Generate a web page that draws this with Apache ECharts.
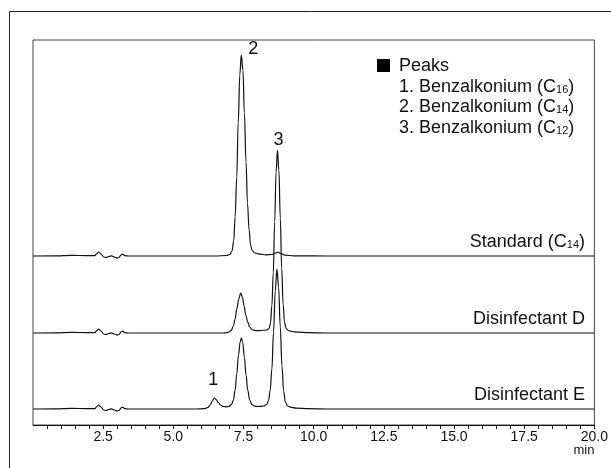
<!DOCTYPE html>
<html>
<head>
<meta charset="utf-8">
<script src="https://cdn.jsdelivr.net/npm/echarts@6/dist/echarts.min.js"></script>
<style>
  html, body { margin: 0; padding: 0; background: #fff; }
  #main { width: 611px; height: 468px; }
</style>
</head>
<body>
<div id="main"></div>
<script>
// retention time (min) vs detector signal
let baselineStart = [
  [0, 0], [0.8, 0.2], [1.4, 0.6], [1.9, 0.4], [2.2, 0.3], [2.28, 2.5], [2.34, 4.0], [2.42, 2.0],
  [2.52, -1.0], [2.6, -1.5], [2.7, -0.5], [2.8, 0.2], [2.9, -1.0], [3.0, -2.2], [3.06, -1.5],
  [3.14, 1.2], [3.2, 1.8], [3.27, 0.3], [3.4, 0], [4.5, 0], [5.8, 0]
];
let standardTrace = [
  [6.5, 0], [6.9, 0.5], [7.01, 1.5], [7.09, 5], [7.15, 15], [7.2, 39], [7.26, 79], [7.31, 133],
  [7.37, 182], [7.42, 201], [7.48, 186], [7.53, 143], [7.59, 94], [7.64, 53], [7.7, 26],
  [7.75, 11], [7.81, 5.5], [7.88, 3.5], [7.97, 2.5], [8.1, 1.8], [8.3, 1.2], [8.52, 1.5],
  [8.63, 3], [8.73, 4], [8.83, 2.5], [8.98, 0.8], [9.3, 0.2], [10.5, 0], [20, 0]
];
let disinfectantD = [
  [6.5, 0], [6.8, 0], [6.95, 0.6], [7.06, 2.5], [7.14, 7], [7.2, 14], [7.26, 24], [7.33, 34],
  [7.4, 40], [7.46, 36], [7.52, 27], [7.58, 18], [7.65, 11], [7.72, 6], [7.8, 3.5],
  [7.9, 2.5], [8.0, 2.3], [8.12, 2.5], [8.32, 3], [8.41, 4.5], [8.46, 10], [8.51, 27],
  [8.56, 60], [8.61, 111], [8.66, 161], [8.71, 183], [8.76, 163], [8.81, 115], [8.86, 65],
  [8.91, 29], [8.96, 11], [9.02, 4.5], [9.1, 2.5], [9.22, 1.5], [9.42, 0.8], [9.8, 0.3],
  [10.5, 0], [20, 0]
];
let disinfectantE = [
  [6.1, 0.3], [6.23, 1.5], [6.31, 4], [6.38, 7.5], [6.46, 11], [6.52, 9.5], [6.6, 6.5],
  [6.68, 4], [6.78, 2.5], [6.88, 2.2], [6.97, 2.5], [7.07, 4.5], [7.14, 9], [7.2, 19],
  [7.26, 35], [7.32, 54], [7.38, 67], [7.42, 71], [7.47, 67], [7.53, 52], [7.59, 34], [7.65, 19],
  [7.72, 9], [7.8, 4.5], [7.9, 2.8], [8.0, 2.5], [8.12, 2.6], [8.22, 3], [8.32, 4.5], [8.39, 8],
  [8.45, 19], [8.51, 40], [8.57, 77], [8.63, 118], [8.69, 140], [8.75, 122], [8.81, 82],
  [8.87, 43], [8.93, 18], [8.99, 7], [9.07, 3], [9.17, 1.8], [9.37, 0.8], [9.8, 0.3],
  [10.5, 0], [20, 0]
];

let traceNames = ['Standard (C{s|14})', 'Disinfectant D', 'Disinfectant E'];
let peakNames = ['1. Benzalkonium (C{s|16})', '2. Benzalkonium (C{s|14})', '3. Benzalkonium (C{s|12})'];
// peak labels: [trace index, retention time, signal at apex, label]
let peakMarks = [
  [2, 6.46, 11, '1'],
  [0, 7.42, 201, '2'],
  [1, 8.71, 183, '3']
];

// vertical stacking of the three runs
let traceOffsets = [169, 92, 16];
let peakLabelOffsets = { '1': [-1, -18], '2': [12, -6], '3': [1, -10] };
let nameY = [242, 319, 395];

const FONT = '"Liberation Sans", Arial, sans-serif';
let chart = echarts.init(document.getElementById('main'));

let runs = [standardTrace, disinfectantD, disinfectantE];
let series = runs.map(function (run, i) {
  let pts = baselineStart.concat(run).map(function (p) {
    return [p[0], p[1] + traceOffsets[i]];
  });
  let marks = peakMarks.filter(function (m) { return m[0] === i; }).map(function (m) {
    return {
      coord: [m[1], m[2] + traceOffsets[i]],
      label: { formatter: m[3], offset: peakLabelOffsets[m[3]] }
    };
  });
  return {
    type: 'line',
    data: pts,
    showSymbol: false,
    smooth: 0.4,
    smoothMonotone: 'x',
    lineStyle: { color: '#111', width: 1.2 },
    silent: true,
    animation: false,
    markPoint: {
      symbol: 'circle',
      symbolSize: 0,
      silent: true,
      label: { show: true, color: '#111', fontSize: 18, fontFamily: FONT },
      data: marks
    }
  };
});

let subRich = { s: { fontSize: 11, fontFamily: FONT, fill: '#111', padding: [5, 0, 0, 0] } };

let graphics = [
  {
    type: 'rect', silent: true,
    shape: { x: 9.5, y: 11.5, width: 800, height: 600 },
    style: { fill: 'none', stroke: '#222', lineWidth: 1 }
  },
  {
    type: 'rect', silent: true,
    shape: { x: 377, y: 59, width: 13, height: 13 },
    style: { fill: '#000' }
  },
  {
    type: 'text', silent: true, x: 399, y: 66,
    style: { text: 'Peaks', font: '18px ' + FONT, fill: '#111', verticalAlign: 'middle' }
  }
];
peakNames.forEach(function (t, i) {
  graphics.push({
    type: 'text', silent: true, x: 399, y: 87 + i * 20.5,
    style: { text: t, font: '18px ' + FONT, fill: '#111', verticalAlign: 'middle', rich: subRich }
  });
});
traceNames.forEach(function (t, i) {
  graphics.push({
    type: 'text', silent: true, x: 585, y: nameY[i],
    style: { text: t, font: '18px ' + FONT, fill: '#111', align: 'right', verticalAlign: 'middle', rich: subRich }
  });
});

let option = {
  animation: false,
  backgroundColor: '#fff',
  grid: {
    left: 33, right: 11, top: 40, bottom: 43,
    show: true, borderColor: '#444', borderWidth: 1
  },
  xAxis: {
    type: 'value',
    min: 0,
    max: 20,
    interval: 0.5,
    name: 'min',
    nameLocation: 'end',
    nameGap: 0,
    nameTextStyle: {
      color: '#111', fontSize: 13, fontFamily: FONT,
      align: 'right', verticalAlign: 'top', padding: [19, 0, 0, 0]
    },
    axisLine: { lineStyle: { color: '#111', width: 1 } },
    axisTick: { length: 4, lineStyle: { color: '#111' } },
    axisLabel: {
      color: '#111', fontSize: 14, fontFamily: FONT, margin: 5,
      showMinLabel: false, showMaxLabel: true,
      formatter: function (v) {
        return (v > 0 && v % 2.5 === 0) ? v.toFixed(1) : '';
      }
    },
    splitLine: { show: false }
  },
  yAxis: {
    type: 'value',
    min: 0,
    max: 385,
    show: false
  },
  series: series,
  graphic: graphics
};
chart.setOption(option);
</script>
</body>
</html>
